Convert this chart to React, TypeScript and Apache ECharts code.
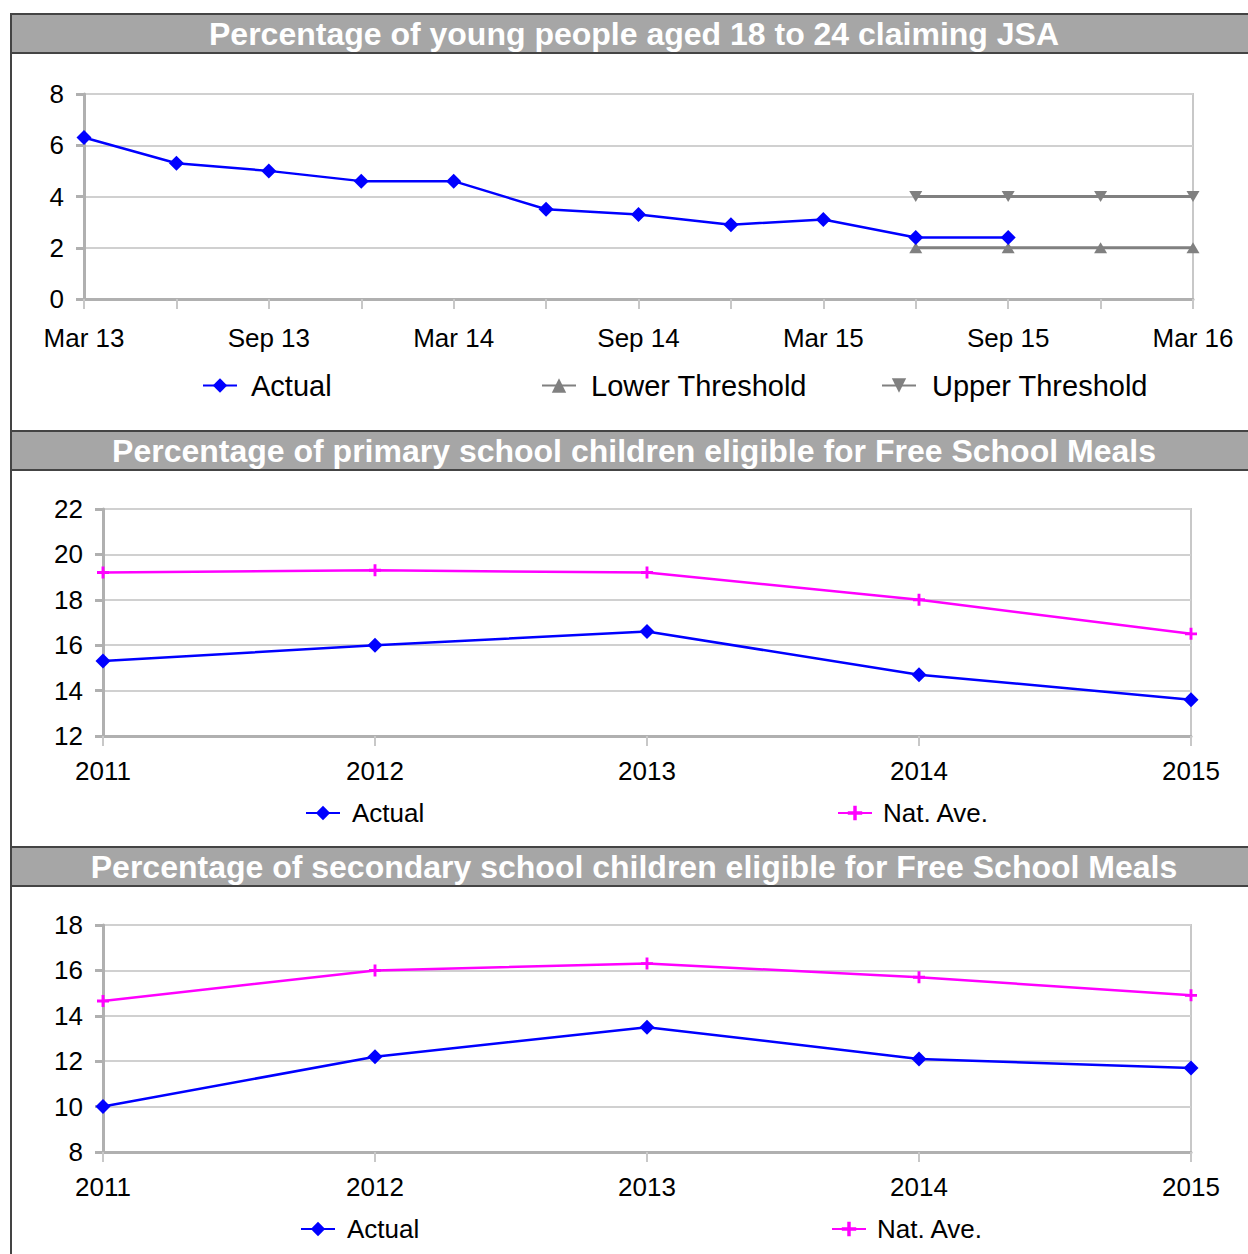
import React, { useEffect, useRef } from "react";
import * as echarts from "echarts";

const titles = [
  "Percentage of young people aged 18 to 24 claiming JSA",
  "Percentage of primary school children eligible for Free School Meals",
  "Percentage of secondary school children eligible for Free School Meals",
];

const jsaCategories = [
  "Mar 13", "Jun 13", "Sep 13", "Dec 13", "Mar 14", "Jun 14", "Sep 14",
  "Dec 14", "Mar 15", "Jun 15", "Sep 15", "Dec 15", "Mar 16",
];
const jsaActual = [6.3, 5.3, 5.0, 4.6, 4.6, 3.5, 3.3, 2.9, 3.1, 2.4, 2.4];
const jsaLower = [null, null, null, null, null, null, null, null, null, 2, 2, 2, 2];
const jsaUpper = [null, null, null, null, null, null, null, null, null, 4, 4, 4, 4];

const years = ["2011", "2012", "2013", "2014", "2015"];
const primaryActual = [15.3, 16.0, 16.6, 14.7, 13.6];
const primaryNat = [19.2, 19.3, 19.2, 18.0, 16.5];
const secondaryActual = [10.0, 12.2, 13.5, 12.1, 11.7];
const secondaryNat = [14.65, 16.0, 16.3, 15.7, 14.9];

const FONT = '"Liberation Sans", Arial, sans-serif';
const BLUE = "#0000ff";
const GREY = "#808080";
const MAGENTA = "#ff00ff";
const PLUS = "path://M3.8,0H6.2V3.8H10V6.2H6.2V10H3.8V6.2H0V3.8H3.8Z";

export default function App() {
  const ref = useRef<HTMLDivElement>(null);

  useEffect(() => {
    if (!ref.current) return;
    const chart = echarts.init(ref.current, null, { renderer: "svg" });

    const grids = [
      { left: 84, right: 55, top: 94, height: 205 },
      { left: 103, right: 57, top: 509, height: 227 },
      { left: 103, right: 57, top: 925, height: 227 },
    ].map((g) => ({
      ...g,
      show: true,
      borderColor: "#c8c8c8",
      borderWidth: 2,
      backgroundColor: "transparent",
    }));

    const xAxisBase = (idx: number, data: string[], labelInterval: number, margin: number) => ({
      type: "category" as const,
      gridIndex: idx,
      data,
      boundaryGap: false,
      axisLine: { show: true, lineStyle: { color: "#b0b0b0", width: 3 } },
      axisTick: { show: true, interval: 0, length: 10, lineStyle: { color: "#c8c8c8", width: 2 } },
      axisLabel: {
        interval: labelInterval,
        margin,
        color: "#000",
        fontFamily: FONT,
        fontSize: 26,
      },
      splitLine: { show: false },
    });

    const yAxisBase = (idx: number, min: number, max: number) => ({
      type: "value" as const,
      gridIndex: idx,
      min,
      max,
      interval: 2,
      axisLine: { show: true, lineStyle: { color: "#b0b0b0", width: 3 } },
      axisTick: { show: true, length: 8, lineStyle: { color: "#b0b0b0", width: 3 } },
      axisLabel: { margin: 20, color: "#000", fontFamily: FONT, fontSize: 26 },
      splitLine: { show: true, lineStyle: { color: "#d0d0d0", width: 2 } },
    });

    const actualSeries = (xi: number, data: number[]) => ({
      name: "Actual",
      type: "line" as const,
      xAxisIndex: xi,
      yAxisIndex: xi,
      data,
      symbol: "diamond",
      symbolSize: 15,
      lineStyle: { color: BLUE, width: 2.5 },
      itemStyle: { color: BLUE },
      z: 5,
    });

    const natSeries = (xi: number, data: number[]) => ({
      name: "Nat. Ave.",
      type: "line" as const,
      xAxisIndex: xi,
      yAxisIndex: xi,
      data,
      symbol: PLUS,
      symbolSize: 12,
      lineStyle: { color: MAGENTA, width: 2.5 },
      itemStyle: { color: MAGENTA },
      z: 4,
    });

    const legend = (name: string, left: number, top: number, fontSize: number, gap: number) => ({
      data: [name],
      left,
      top,
      padding: 0,
      itemWidth: 34,
      itemHeight: 18,
      selectedMode: false,
      textStyle: { color: "#000", fontFamily: FONT, fontSize, padding: [0, 0, 0, gap] },
    });

    const frameStroke = "#444444";
    const graphics: any[] = [
      {
        type: "rect",
        shape: { x: 11, y: 14, width: 1260, height: 1260 },
        style: { fill: "none", stroke: frameStroke, lineWidth: 2 },
        z: 100,
      },
    ];
    [14, 431, 847].forEach((y, i) => {
      graphics.push({
        type: "rect",
        shape: { x: 11, y, width: 1260, height: 39 },
        style: { fill: "#a6a6a6", stroke: frameStroke, lineWidth: 2 },
        z: 100,
      });
      graphics.push({
        type: "text",
        x: 634,
        y: y + 20,
        style: {
          text: titles[i],
          fill: "#ffffff",
          font: `bold 32px ${FONT}`,
          textAlign: "center",
          textVerticalAlign: "middle",
        },
        z: 101,
      });
    });

    chart.setOption({
      animation: false,
      backgroundColor: "#ffffff",
      grid: grids,
      xAxis: [
        xAxisBase(0, jsaCategories, 1, 26),
        xAxisBase(1, years, 0, 22),
        xAxisBase(2, years, 0, 22),
      ],
      yAxis: [yAxisBase(0, 0, 8), yAxisBase(1, 12, 22), yAxisBase(2, 8, 18)],
      legend: [
        legend("Actual", 202, 371, 29, 9),
        legend("Lower Threshold", 541, 371, 29, 10),
        legend("Upper Threshold", 881, 371, 29, 11),
        legend("Actual", 305, 800, 26, 7),
        legend("Nat. Ave.", 837, 800, 26, 6),
        legend("Actual", 300, 1216, 26, 7),
        legend("Nat. Ave.", 831, 1216, 26, 6),
      ],
      series: [
        actualSeries(0, jsaActual),
        {
          name: "Lower Threshold",
          type: "line",
          xAxisIndex: 0,
          yAxisIndex: 0,
          data: jsaLower,
          symbol: "triangle",
          symbolSize: [13, 11],
          lineStyle: { color: GREY, width: 3 },
          itemStyle: { color: GREY },
          z: 3,
        },
        {
          name: "Upper Threshold",
          type: "line",
          xAxisIndex: 0,
          yAxisIndex: 0,
          data: jsaUpper,
          symbol: "triangle",
          symbolRotate: 180,
          symbolSize: [13, 11],
          lineStyle: { color: GREY, width: 3 },
          itemStyle: { color: GREY },
          z: 3,
        },
        actualSeries(1, primaryActual),
        natSeries(1, primaryNat),
        actualSeries(2, secondaryActual),
        natSeries(2, secondaryNat),
      ],
      graphic: graphics,
    });

    return () => chart.dispose();
  }, []);

  return (
    <div
      ref={ref}
      style={{ position: "absolute", left: 0, top: 0, width: 1248, height: 1254 }}
    />
  );
}
